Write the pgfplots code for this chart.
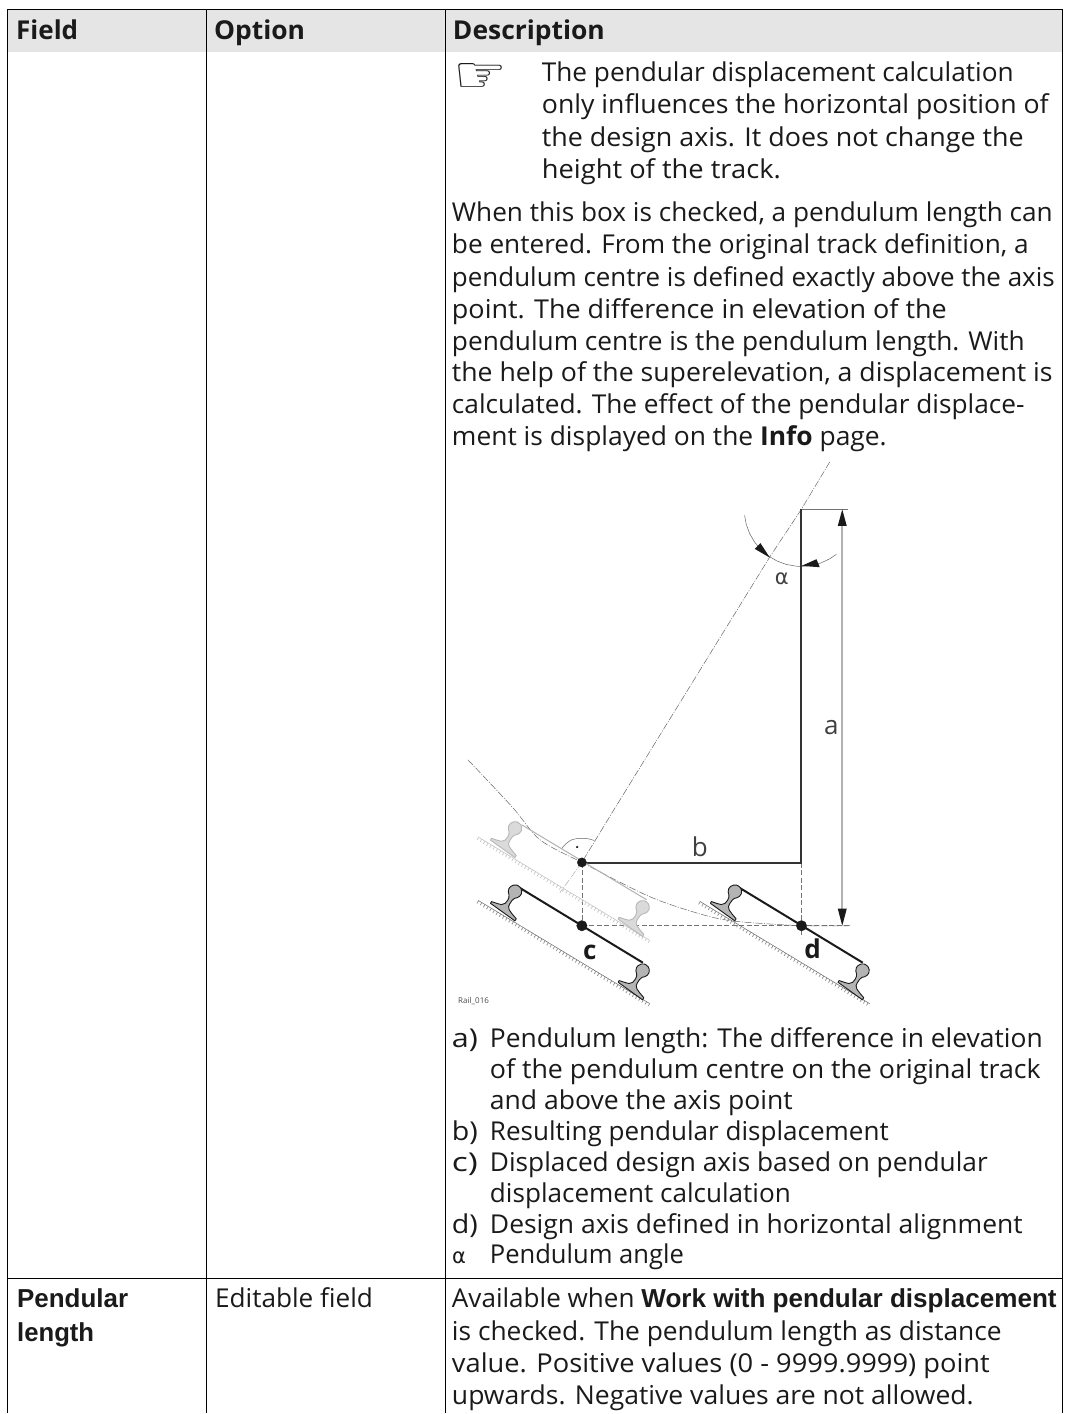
\documentclass[border=0pt]{standalone}
\usepackage{pgfplots}
\usepackage{pgfplotstable}
\usepackage{graphicx}
\usepackage{fontspec}
\pgfplotsset{compat=1.18}
\setmainfont{Open Sans}
\newfontfamily\arial{Liberation Sans}
\newfontfamily\djf{DejaVu Sans}
\newcommand{\heavy}{\bfseries}
\newcommand{\fs}{\fontsize{26}{31}\selectfont}
\definecolor{hdr}{HTML}{E5E5E5}
\definecolor{ink}{HTML}{1A1A1A}
\definecolor{railg}{HTML}{B8B8B8}
\definecolor{railgf}{HTML}{DADADA}
\definecolor{railf}{HTML}{B4B4B4}
% rail profile: u along the track, v from head centre towards the foot
\pgfplotstableread{
u v
0 -6.8
3 -6.2
5.2 -4.4
6.6 -1.5
6.4 1.5
5 4
3 6
2 9
1.8 13
2.2 16
4.5 18.5
9 20.5
15 22.5
15 25
-15 22.5
-15 20.5
-9 19.2
-5 18
-2.4 15
-1.8 11
-2.2 8
-3.6 5.6
-5.6 3.6
-6.8 0.5
-6.4 -2.2
-4.6 -5
-2 -6.6
0 -6.8
}\railtab
\newcommand{\rail}[4]{\addplot[draw=#3,line width=0.9pt,fill=#4,line join=round] table[x expr={#1+0.857*\thisrow{u}-0.515*\thisrow{v}},y expr={#2+0.515*\thisrow{u}+0.857*\thisrow{v}}] {\railtab} -- cycle;}
% one line of text: x, baseline y, width in px, text
\newcommand{\tl}[4]{\node[anchor=base west,inner sep=0pt,outer sep=0pt,text=ink] at (axis cs:#1,#2) {\resizebox{#3pt}{\height}{\fs #4}};}
\begin{document}
\begin{tikzpicture}
\begin{axis}[scale only axis,width=1072pt,height=1414pt,xmin=0,xmax=1072,ymin=0,ymax=1414,y dir=reverse,
 hide axis,clip=false,
 every axis plot/.append style={no markers}]
% page
\addplot[draw=white,fill=white] coordinates {(0,0)(1072,0)(1072,1414)(0,1414)} -- cycle;
% header band
\addplot[draw=none,fill=hdr] coordinates {(7,9)(1063,9)(1063,51.5)(7,51.5)} -- cycle;
% rules
\pgfplotsset{rule/.style={black,line width=1.1pt}}
\addplot[rule] coordinates {(7,9)(1063,9)};
\addplot[rule] coordinates {(7,1279)(1063,1279)};
\addplot[rule] coordinates {(7,9)(7,1414)};
\addplot[rule] coordinates {(206.5,9)(206.5,1414)};
\addplot[rule] coordinates {(445.5,9)(445.5,1414)};
\addplot[rule] coordinates {(1063,9)(1063,1414)};
% header text
\tl{16}{39}{62}{\heavy Field}
\tl{214}{39}{91}{\heavy Option}
\tl{453}{39}{152}{\heavy Description}
% note
\node[anchor=base west,inner sep=0pt,text=ink] at (axis cs:453,92) {\resizebox{54pt}{29pt}{\djf ☞}};
\tl{542}{81}{472}{The pendular displacement calculation}
\tl{542}{113}{507}{only influences the horizontal position of}
\tl{542}{146}{482}{the design axis. It does not change the}
\tl{542}{178}{239}{height of the track.}
% paragraph
\tl{452}{221}{601}{When this box is checked, a pendulum length can}
\tl{452}{253}{577}{be entered. From the original track definition, a}
\tl{452}{286}{603}{pendulum centre is defined exactly above the axis}
\tl{452}{318}{495}{point. The difference in elevation of the}
\tl{452}{350}{573}{pendulum centre is the pendulum length. With}
\tl{452}{382}{601}{the help of the superelevation, a displacement is}
\tl{452}{414}{573}{calculated. The effect of the pendular displace-}
\tl{452}{446}{435}{ment is displayed on the {\heavy Info} page.}
% diagram: construction lines
\pgfplotsset{thin gray/.style={draw=black!60,line width=0.5pt},
 dashdot/.style={draw=black!60,line width=0.5pt,dash pattern=on 7pt off 1.5pt on 1pt off 1.5pt},
 dashed thin/.style={draw=black!55,line width=0.5pt,dash pattern=on 5pt off 2.5pt}}
\addplot[dashdot] coordinates {(830,462)(801.5,509.5)(770,557)(614,810)(582,862.5)};
\addplot[dashdot,draw=black!30] coordinates {(582,862.5)(560,893)};
\addplot[dashdot,smooth] coordinates {(468,760)(513,808)(540,840)(582,862.7)(650,897)(703,915)(737,921.7)(801.7,926)(850,926)};
\addplot[dashed thin] coordinates {(582,863)(582,926)};
\addplot[dashed thin] coordinates {(801.5,863)(801.5,938)};
\addplot[dashed thin] coordinates {(582,926)(850,926)};
% alpha arc
\addplot[thin gray] coordinates {(744.8,515.5)(746.4,524.3)(749.8,533.6)(754.8,542.2)(761.2,549.8)(768.8,556.2)(777.4,561.2)(786.7,564.6)(796.5,566.3)(801.5,566.5)(811.4,565.6)(821,563.1)(830,558.9)(836.6,554.4)};
\addplot[draw=none,fill=ink] coordinates {(755,549)(760.7,543.3)(770,557.7)} -- cycle;
\addplot[draw=none,fill=ink] coordinates {(801.7,566)(816.7,559.3)(820,567.3)} -- cycle;
% right angle
\addplot[thin gray,smooth] coordinates {(561.7,849)(566,844)(572,840)(580,838.5)(588,839)(594.3,840.7)};
\addplot[only marks,mark=*,mark size=0.9pt,mark options={fill=ink,draw=ink}] coordinates {(577.3,847.3)};
% main lines
\addplot[draw=black!55,line width=1pt] coordinates {(801,509.5)(848,509.5)};
\addplot[draw=black!30,line width=1.8pt] coordinates {(842.5,515)(842.5,915)};
\addplot[draw=none,fill=ink] coordinates {(842.5,509.5)(838,526)(847,526)} -- cycle;
\addplot[draw=none,fill=ink] coordinates {(842.5,926)(838,909)(847,909)} -- cycle;
\addplot[draw=black!80,line width=2pt] coordinates {(801.5,509)(801.5,863.3)(582,863.3)};
% grey track
\addplot[draw=black!25,line width=0.5pt] coordinates {(478.3,837.3)(650,940.7)};
\addplot[draw=black!22,line width=3pt,dash pattern=on 0.7pt off 3pt] coordinates {(477.5,838.8)(649.2,942.2)};
\addplot[draw=black!30,line width=1pt] coordinates {(521.7,825)(646.7,900)};
\rail{515}{828.7}{railg}{railgf}
\rail{642.7}{907.7}{railg}{railgf}
% track c
\addplot[draw=black!60,line width=0.5pt] coordinates {(478.3,900.7)(650,1004)};
\addplot[draw=black!45,line width=3pt,dash pattern=on 0.7pt off 3pt] coordinates {(477.5,902.2)(649.2,1005.5)};
\addplot[draw=ink,line width=2pt] coordinates {(518,887)(643,963)};
\rail{515}{892}{ink}{railf}
\rail{642.7}{971}{ink}{railf}
% track d
\addplot[draw=black!60,line width=0.5pt] coordinates {(700,901.7)(870,1004)};
\addplot[draw=black!45,line width=3pt,dash pattern=on 0.7pt off 3pt] coordinates {(699.2,903.2)(869.2,1005.5)};
\addplot[draw=ink,line width=2pt] coordinates {(738,887)(863,963)};
\rail{735}{892}{ink}{railf}
\rail{862.7}{971}{ink}{railf}
% dots
\addplot[only marks,mark=*,mark size=4.6pt,mark options={fill=ink,draw=ink}] coordinates {(582,862.7)};
\addplot[only marks,mark=*,mark size=5.2pt,mark options={fill=ink,draw=ink}] coordinates {(582,926)(801.7,926)};
% diagram labels
\node[anchor=base,inner sep=0pt,text=black!75] at (axis cs:831.5,735) {\fs a};
\node[anchor=base,inner sep=0pt,text=black!75] at (axis cs:700,857) {\fs b};
\node[anchor=base,inner sep=0pt,text=ink] at (axis cs:590,960) {\fs\heavy c};
\node[anchor=base,inner sep=0pt,text=ink] at (axis cs:812.7,959) {\fs\heavy d};
\node[anchor=base,inner sep=0pt,text=black!75] at (axis cs:782,585) {\djf\fontsize{21}{25}\selectfont α};
\node[anchor=base west,inner sep=0pt,text=black!70] at (axis cs:458,1004) {\fontsize{8}{10}\selectfont Rail\_016};
% list
\tl{452}{1048}{26}{a)}
\tl{490}{1048}{553}{Pendulum length: The difference in elevation}
\tl{490}{1079}{551}{of the pendulum centre on the original track}
\tl{490}{1110}{303}{and above the axis point}
\tl{452}{1141}{26}{b)}
\tl{490}{1141}{399}{Resulting pendular displacement}
\tl{452}{1172}{26}{c)}
\tl{490}{1172}{498}{Displaced design axis based on pendular}
\tl{490}{1203}{301}{displacement calculation}
\tl{452}{1234}{26}{d)}
\tl{490}{1234}{533}{Design axis defined in horizontal alignment}
\node[anchor=base west,inner sep=0pt,text=ink] at (axis cs:452,1264) {\djf\fontsize{21}{25}\selectfont α};
\tl{490}{1264}{194}{Pendulum angle}
% last row
\tl{17}{1308}{111}{\arial\bfseries Pendular}
\tl{17}{1342}{77}{\arial\bfseries length}
\tl{215}{1308}{158}{Editable field}
\tl{452}{1308}{605}{Available when {\arial\bfseries Work with pendular displacement}}
\tl{452}{1341}{550}{is checked. The pendulum length as distance}
\tl{452}{1373}{538}{value. Positive values (0 - 9999.9999) point}
\tl{452}{1405}{522}{upwards. Negative values are not allowed.}
\end{axis}
\end{tikzpicture}
\end{document}
